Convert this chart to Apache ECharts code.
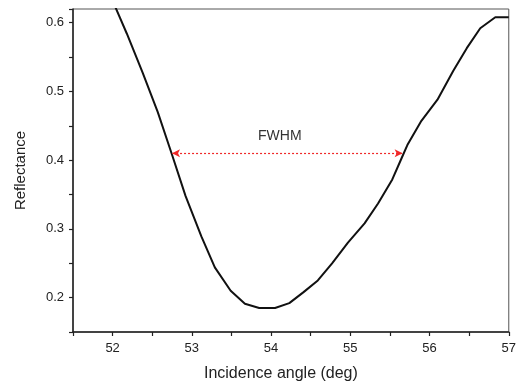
<!DOCTYPE html>
<html lang="en">
<head>
  <meta charset="UTF-8" />
  <title>Reflectance vs incidence angle</title>
  <script src="https://cdn.jsdelivr.net/npm/echarts@6.0.0/dist/echarts.min.js"></script>
  <style>
    body { margin: 0; background: #fff; overflow: hidden; }
    #main { width: 519px; height: 387px; }
  </style>
</head>
<body>
  <div id="main"></div>
  <script>
    const chart = echarts.init(document.getElementById('main'));

    // incidence angle (deg) and reflectance
    const angles = [52.0, 52.18, 52.38, 52.57, 52.75, 52.92, 53.12, 53.29, 53.49, 53.67,
      53.85, 54.05, 54.23, 54.41, 54.59, 54.77, 54.97, 55.18, 55.35, 55.53,
      55.64, 55.72, 55.89, 56.10, 56.30, 56.47, 56.64, 56.83, 57.0];
    const reflectance = [0.632, 0.584, 0.527, 0.470, 0.408, 0.348, 0.289, 0.244, 0.210, 0.191,
      0.185, 0.185, 0.192, 0.208, 0.225, 0.250, 0.280, 0.308, 0.337, 0.372,
      0.401, 0.422, 0.456, 0.488, 0.530, 0.563, 0.592, 0.608, 0.608];

    // FWHM arrow ends and label
    const fwhmX = [52.75, 55.66];
    const fwhmY = 0.41;
    const fwhmLabel = { text: 'FWHM', x: 54.11, y: 0.435 };

    const font = 'Liberation Sans, Arial, sans-serif';
    const isTenth = v => Math.abs(v * 10 - Math.round(v * 10)) < 1e-6;

    const option = {
      backgroundColor: '#fff',
      animation: false,
      grid: {
        left: 73, right: 7, top: 9, bottom: 54,
        show: true, borderColor: '#555', borderWidth: 1
      },
      xAxis: {
        type: 'value',
        min: 51.5, max: 57, interval: 0.5,
        name: 'Incidence angle (deg)',
        nameLocation: 'middle', nameGap: 34,
        nameTextStyle: { fontFamily: font, fontSize: 16, color: '#222', padding: [0, 20, 0, 0] },
        axisLine: { lineStyle: { color: '#222', width: 1.5 } },
        axisTick: { inside: false, length: 4, lineStyle: { color: '#222', width: 1.2 } },
        axisLabel: {
          fontFamily: font, fontSize: 13, color: '#222', margin: 10,
          formatter: v => Number.isInteger(v) ? String(v) : ''
        },
        splitLine: { show: false }
      },
      yAxis: {
        type: 'value',
        min: 0.15, max: 0.62, interval: 0.05,
        name: 'Reflectance',
        nameLocation: 'middle', nameGap: 45,
        nameTextStyle: { fontFamily: font, fontSize: 15, color: '#222' },
        axisLine: { lineStyle: { color: '#222', width: 1.5 } },
        axisTick: { inside: false, length: 4, lineStyle: { color: '#222', width: 1.2 } },
        axisLabel: {
          fontFamily: font, fontSize: 13, color: '#222', margin: 9,
          formatter: v => isTenth(v) ? v.toFixed(1) : ''
        },
        splitLine: { show: false }
      },
      series: [
        {
          type: 'line',
          data: angles.map((a, i) => [a, reflectance[i]]),
          showSymbol: false,
          clip: true,
          lineStyle: { color: '#111', width: 2 },
          markLine: {
            silent: true,
            symbol: ['arrow', 'arrow'],
            symbolSize: [6, 8],
            label: { show: false },
            itemStyle: { color: '#f02828' },
            lineStyle: { color: '#f02828', type: [2, 2], width: 1.2 },
            data: [[
              { coord: [fwhmX[0], fwhmY] },
              { coord: [fwhmX[1], fwhmY] }
            ]]
          },
          markPoint: {
            silent: true,
            symbolSize: 0,
            label: {
              show: true, formatter: fwhmLabel.text,
              fontFamily: font, fontSize: 14, color: '#333'
            },
            data: [{ coord: [fwhmLabel.x, fwhmLabel.y] }]
          }
        }
      ]
    };

    chart.setOption(option);
  </script>
</body>
</html>
